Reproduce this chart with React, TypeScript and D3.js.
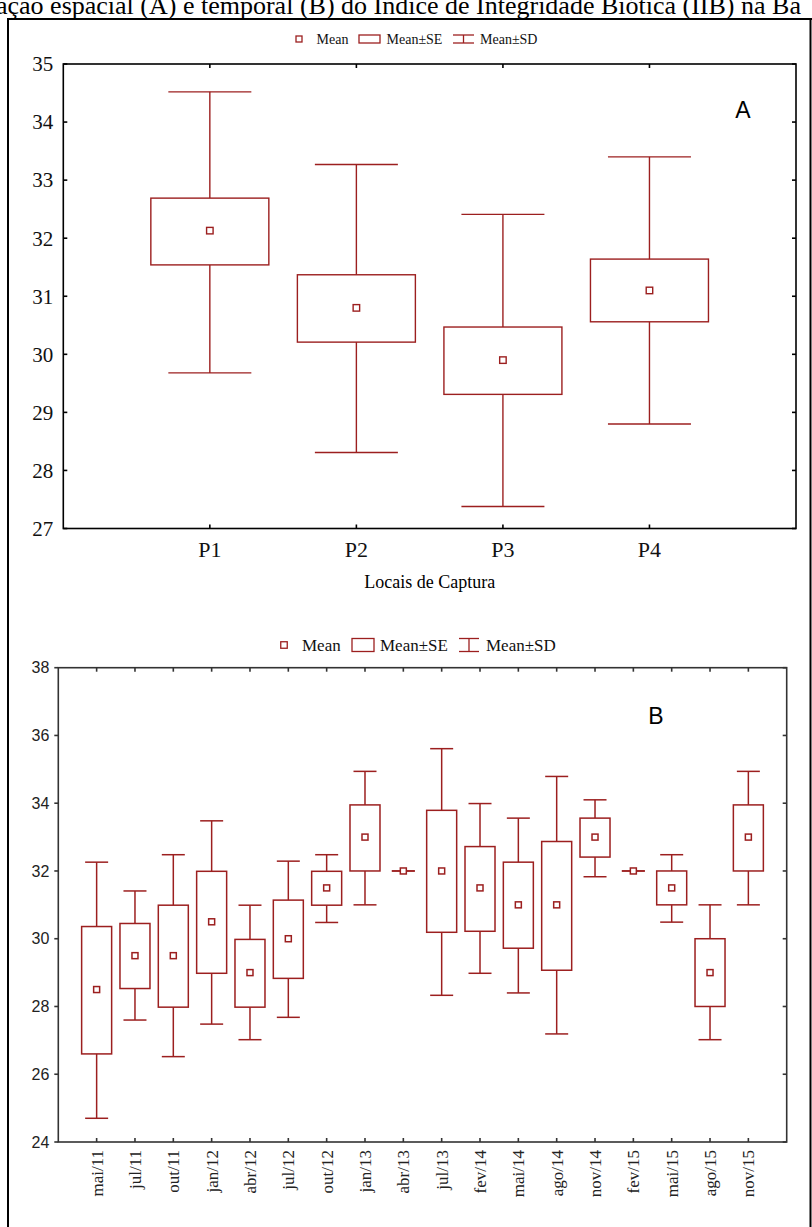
import React from "react";
import { scaleLinear, scalePoint } from "d3";

// Panel A: spatial (sampling sites)
const sites = ["P1", "P2", "P3", "P4"];
const siteMean = [32.13, 30.8, 29.9, 31.1];
const siteSeLow = [31.54, 30.21, 29.31, 30.56];
const siteSeHigh = [32.69, 31.37, 30.47, 31.64];
const siteSdLow = [29.68, 28.31, 27.38, 28.8];
const siteSdHigh = [34.52, 33.27, 32.41, 33.4];
const yTicksA = [27, 28, 29, 30, 31, 32, 33, 34, 35];

// Panel B: temporal (campaigns)
const months = [
  "mai/11", "jul/11", "out/11", "jan/12", "abr/12", "jul/12", "out/12", "jan/13", "abr/13",
  "jul/13", "fev/14", "mai/14", "ago/14", "nov/14", "fev/15", "mai/15", "ago/15", "nov/15",
];
const monthMean = [28.5, 29.5, 29.5, 30.5, 29.0, 30.0, 31.5, 33.0, 32.0, 32.0, 31.5, 31.0, 31.0, 33.0, 32.0, 31.5, 29.0, 33.0];
const monthSeLow = [26.6, 28.53, 27.98, 28.98, 27.98, 28.83, 30.99, 32.0, 32.0, 30.19, 30.22, 29.72, 29.07, 32.41, 32.0, 31.0, 28.0, 32.0];
const monthSeHigh = [30.36, 30.45, 30.99, 31.99, 29.98, 31.14, 31.99, 33.95, 32.0, 33.79, 32.72, 32.26, 32.87, 33.56, 32.0, 32.0, 30.0, 33.95];
const monthSdLow = [24.7, 27.6, 26.52, 27.48, 27.02, 27.68, 30.48, 31.0, 32.0, 28.33, 28.98, 28.4, 27.19, 31.83, 32.0, 30.49, 27.02, 31.0];
const monthSdHigh = [32.26, 31.41, 32.48, 33.48, 30.99, 32.29, 32.48, 34.94, 32.0, 35.61, 33.99, 33.56, 34.79, 34.1, 32.0, 32.48, 31.0, 34.94];
const yTicksB = [24, 26, 28, 30, 32, 34, 36, 38];

const RED = "#9c1f1f";
const SERIF = "'Liberation Serif', 'Times New Roman', serif";
const SANS = "'Liberation Sans', Arial, sans-serif";

function Boxes({ cats, mean, seLow, seHigh, sdLow, sdHigh, x, y, boxW, capW, mark, sw }) {
  return (
    <g stroke={RED} strokeWidth={sw} fill="none">
      {cats.map((c, i) => {
        const cx = x(c);
        const yMean = y(mean[i]);
        const ySeH = y(seHigh[i]);
        const ySeL = y(seLow[i]);
        const ySdH = y(sdHigh[i]);
        const ySdL = y(sdLow[i]);
        return (
          <g key={c}>
            <line x1={cx} x2={cx} y1={ySdH} y2={ySeH} />
            <line x1={cx} x2={cx} y1={ySeL} y2={ySdL} />
            <line x1={cx - capW / 2} x2={cx + capW / 2} y1={ySdH} y2={ySdH} />
            <line x1={cx - capW / 2} x2={cx + capW / 2} y1={ySdL} y2={ySdL} />
            <rect x={cx - boxW / 2} y={ySeH} width={boxW} height={Math.max(0, ySeL - ySeH)} />
            <rect x={cx - mark / 2} y={yMean - mark / 2} width={mark} height={mark} fill="#fff" />
          </g>
        );
      })}
    </g>
  );
}

function Legend({ x0, y0, fs, mark, boxW, boxH, symW, gaps }) {
  // gaps: offsets from x0 of [text Mean, box, text SE, SD symbol, text SD]
  return (
    <g fontFamily={SERIF} fontSize={fs} fill="#111">
      <rect x={x0 - mark / 2} y={y0 - mark / 2} width={mark} height={mark} fill="#fff" stroke={RED} strokeWidth={1.3} />
      <text x={x0 + gaps[0]} y={y0} dy="0.35em">Mean</text>
      <rect x={x0 + gaps[1]} y={y0 - boxH / 2} width={boxW} height={boxH} fill="none" stroke={RED} strokeWidth={1.3} />
      <text x={x0 + gaps[2]} y={y0} dy="0.35em">Mean±SE</text>
      <g stroke={RED} strokeWidth={1.3}>
        <line x1={x0 + gaps[3]} x2={x0 + gaps[3] + symW} y1={y0 - boxH / 2} y2={y0 - boxH / 2} />
        <line x1={x0 + gaps[3]} x2={x0 + gaps[3] + symW} y1={y0 + boxH / 2} y2={y0 + boxH / 2} />
        <line x1={x0 + gaps[3] + symW / 2} x2={x0 + gaps[3] + symW / 2} y1={y0 - boxH / 2} y2={y0 + boxH / 2} />
      </g>
      <text x={x0 + gaps[4]} y={y0} dy="0.35em">Mean±SD</text>
    </g>
  );
}

export default function App() {
  const W = 812;
  const H = 1227;

  // panel A
  const a = { left: 63.3, right: 796, top: 64, bottom: 528.5 };
  const xA = scalePoint().domain(sites).range([a.left, a.right]).padding(1);
  const yA = scaleLinear().domain([27, 35]).range([a.bottom, a.top]);

  // panel B
  const b = { left: 58.3, right: 786.7, top: 667.7, bottom: 1142 };
  const xB = scalePoint().domain(months).range([b.left, b.right]).padding(1);
  const yB = scaleLinear().domain([24, 38]).range([b.bottom, b.top]);

  const tk = 4;

  return (
    <svg width={W} height={H} style={{ position: "absolute", left: 0, top: 0, background: "#fff" }}>
      {/* caption fragment cut at top of image */}
      <text x={-4} y={14} fontFamily={SERIF} fontSize={26} fill="#000">
        ação espacial (A) e temporal (B) do Índice de Integridade Biótica (IIB) na Ba
      </text>
      {/* frame */}
      <g stroke="#000" strokeWidth={2} fill="none">
        <line x1={8} x2={8} y1={18} y2={H} />
        <line x1={7} x2={W} y1={19} y2={19} />
        <line x1={810.5} x2={810.5} y1={18} y2={H} />
      </g>

      {/* ---------- Panel A ---------- */}
      <Legend x0={299} y0={39} fs={14} mark={6} boxW={21} boxH={8} symW={21}
        gaps={[17.5, 60, 87.5, 154, 181]} />
      <g stroke="#000" strokeWidth={1.6} fill="none">
        <rect x={a.left} y={a.top} width={a.right - a.left} height={a.bottom - a.top} />
        {sites.map((s) => (
          <g key={s}>
            <line x1={xA(s)} x2={xA(s)} y1={a.top} y2={a.top + tk} />
            <line x1={xA(s)} x2={xA(s)} y1={a.bottom} y2={a.bottom - tk} />
          </g>
        ))}
        {yTicksA.map((t) => (
          <g key={t}>
            <line x1={a.left} x2={a.left + tk} y1={yA(t)} y2={yA(t)} />
            <line x1={a.right} x2={a.right - tk} y1={yA(t)} y2={yA(t)} />
          </g>
        ))}
      </g>
      <g fontFamily={SERIF} fontSize={21} fill="#111">
        {yTicksA.map((t) => (
          <text key={t} x={a.left - 10} y={yA(t)} dy="0.35em" textAnchor="end">{t}</text>
        ))}
        {sites.map((s) => (
          <text key={s} x={xA(s)} y={a.bottom + 21} dy="0.35em" textAnchor="middle" fontSize={22}>{s}</text>
        ))}
      </g>
      <text x={(a.left + a.right) / 2} y={582} dy="0.35em" textAnchor="middle" fontFamily={SERIF} fontSize={18}>
        Locais de Captura
      </text>
      <text x={743} y={110} dy="0.35em" textAnchor="middle" fontFamily={SANS} fontSize={23}>A</text>
      <Boxes cats={sites} mean={siteMean} seLow={siteSeLow} seHigh={siteSeHigh} sdLow={siteSdLow}
        sdHigh={siteSdHigh} x={xA} y={yA} boxW={118} capW={83} mark={6.5} sw={1.4} />

      {/* ---------- Panel B ---------- */}
      <Legend x0={284} y0={645} fs={17} mark={6.5} boxW={22} boxH={13} symW={20}
        gaps={[18, 68, 96, 175, 202]} />
      <g stroke="#333" strokeWidth={1.6} fill="none">
        <rect x={b.left} y={b.top} width={b.right - b.left} height={b.bottom - b.top} />
        {months.map((m) => (
          <g key={m}>
            <line x1={xB(m)} x2={xB(m)} y1={b.top} y2={b.top + tk} />
            <line x1={xB(m)} x2={xB(m)} y1={b.bottom} y2={b.bottom - tk} />
          </g>
        ))}
        {yTicksB.map((t) => (
          <g key={t}>
            <line x1={b.left} x2={b.left - tk} y1={yB(t)} y2={yB(t)} />
            <line x1={b.right} x2={b.right - tk} y1={yB(t)} y2={yB(t)} />
          </g>
        ))}
      </g>
      <g fontFamily={SANS} fontSize={16} fill="#222">
        {yTicksB.map((t) => (
          <text key={t} x={b.left - 9} y={yB(t)} dy="0.35em" textAnchor="end">{t}</text>
        ))}
      </g>
      <g fontFamily={SERIF} fontSize={17} fill="#222">
        {months.map((m) => (
          <text key={m} transform={`translate(${xB(m)},${b.bottom + 8}) rotate(-90)`} dy="0.35em" textAnchor="end">{m}</text>
        ))}
      </g>
      <text x={656} y={716} dy="0.35em" textAnchor="middle" fontFamily={SANS} fontSize={23}>B</text>
      <Boxes cats={months} mean={monthMean} seLow={monthSeLow} seHigh={monthSeHigh} sdLow={monthSdLow}
        sdHigh={monthSdHigh} x={xB} y={yB} boxW={30} capW={23} mark={6} sw={1.5} />
    </svg>
  );
}
